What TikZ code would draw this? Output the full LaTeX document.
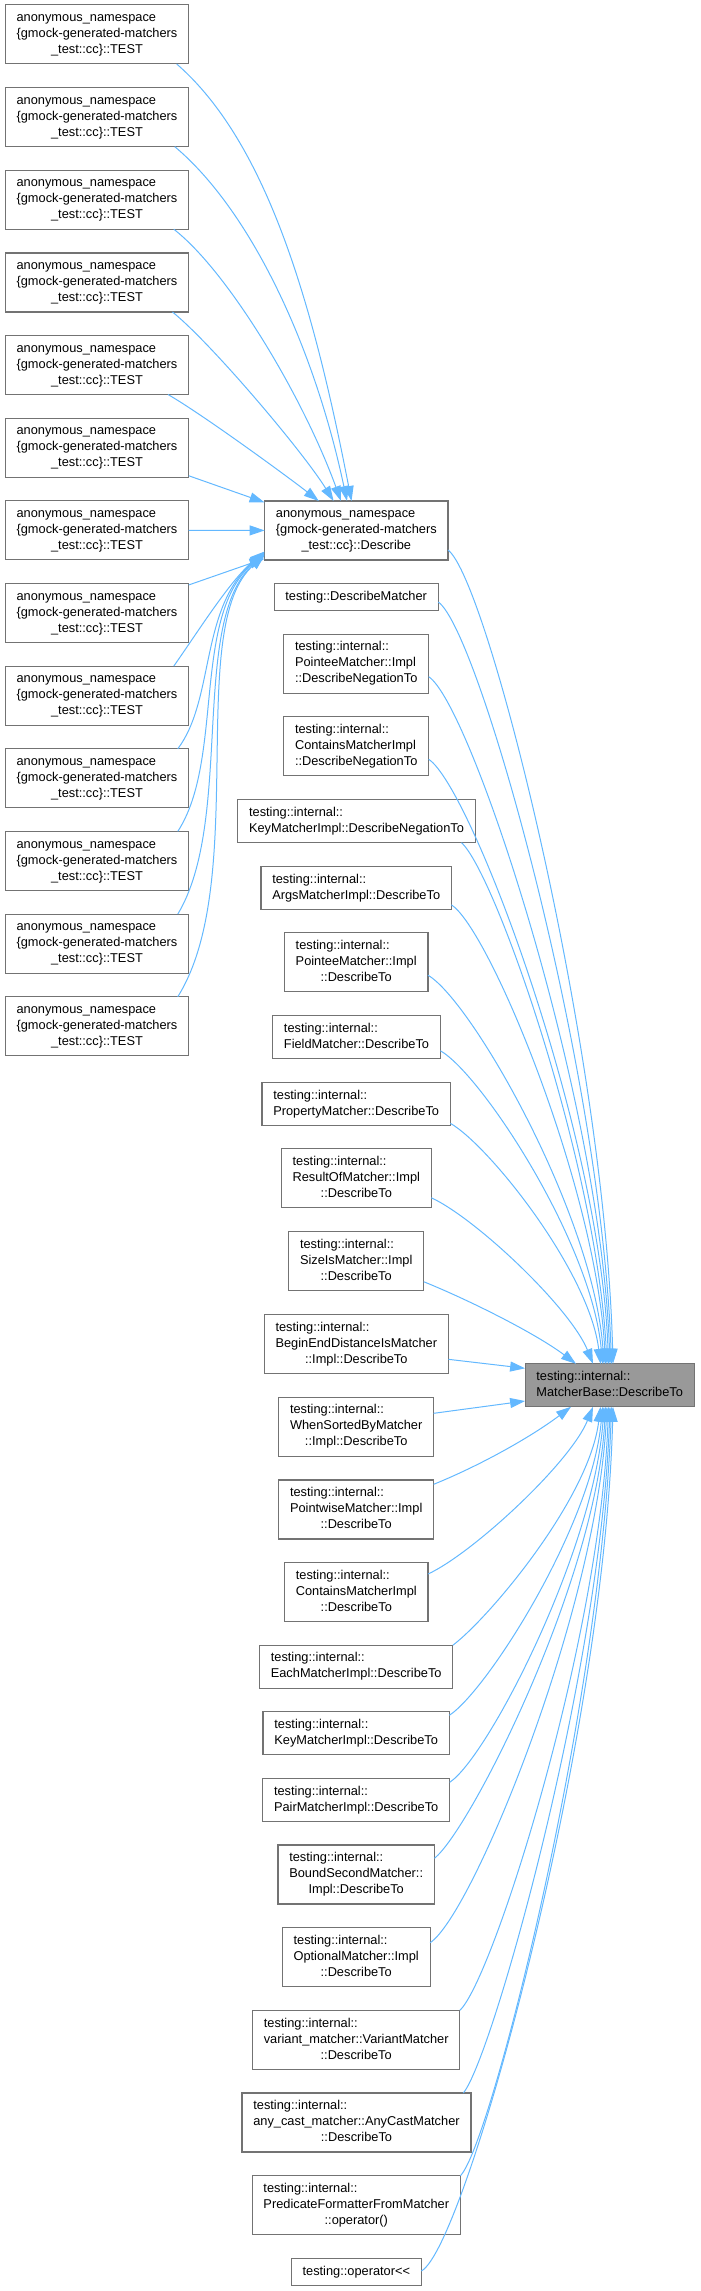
\documentclass[tikz,border=0pt]{standalone}
\usepackage{fontspec}
\setmainfont{Liberation Sans}
\usetikzlibrary{arrows.meta}

\definecolor{edgeblue}{HTML}{63B8FF}
\definecolor{boxline}{HTML}{737373}
\definecolor{focusfill}{HTML}{999999}

\newcommand{\lbl}[1]{\begin{tabular}{@{}l@{}}#1\end{tabular}}
\newcommand{\lastline}[1]{\multicolumn{1}{@{}c@{}}{#1}}
\newcommand{\testlbl}{\lbl{anonymous\_namespace\\\{gmock-generated-matchers\\\lastline{\_test::cc\}::TEST}}}

\begin{document}
\begin{tikzpicture}[
  x=1pt,y=1pt,
  font=\fontsize{12.8}{16}\selectfont,
  >={Triangle[length=15pt,width=10pt]},
  fn/.style={draw=boxline,line width=1.2pt,fill=white,inner xsep=11.3pt,inner ysep=5.5pt,outer sep=0pt},
  focus/.style={fn,fill=focusfill},
  call/.style={->,draw=edgeblue,line width=1pt}
]
\useasboundingbox (0,0) rectangle (701,-2291);

\node[fn] (t0) at (97,-34.4) {\testlbl};
\node[fn] (t1) at (97,-117.1) {\testlbl};
\node[fn] (t2) at (97,-199.7) {\testlbl};
\node[fn] (t3) at (97,-282.4) {\testlbl};
\node[fn] (t4) at (97,-365.0) {\testlbl};
\node[fn] (t5) at (97,-447.7) {\testlbl};
\node[fn] (t6) at (97,-530.3) {\testlbl};
\node[fn] (t7) at (97,-613.0) {\testlbl};
\node[fn] (t8) at (97,-695.6) {\testlbl};
\node[fn] (t9) at (97,-778.3) {\testlbl};
\node[fn] (t10) at (97,-860.9) {\testlbl};
\node[fn] (t11) at (97,-943.6) {\testlbl};
\node[fn] (t12) at (97,-1026.2) {\testlbl};

\node[fn] (desc) at (356.3,-530.5) {\lbl{anonymous\_namespace\\\{gmock-generated-matchers\\\lastline{\_test::cc\}::Describe}}};
\node[fn] (dm) at (356.2,-597) {\lbl{testing::DescribeMatcher}};
\node[fn] (pnn) at (356.2,-663.7) {\lbl{testing::internal::\\PointeeMatcher::Impl\\\lastline{::DescribeNegationTo}}};
\node[fn] (cnn) at (356.2,-746.3) {\lbl{testing::internal::\\ContainsMatcherImpl\\\lastline{::DescribeNegationTo}}};
\node[fn] (knn) at (356.5,-821.2) {\lbl{testing::internal::\\KeyMatcherImpl::DescribeNegationTo}};
\node[fn] (args) at (356.2,-887.8) {\lbl{testing::internal::\\ArgsMatcherImpl::DescribeTo}};
\node[fn] (pdt) at (356.2,-962.2) {\lbl{testing::internal::\\PointeeMatcher::Impl\\\lastline{::DescribeTo}}};
\node[fn] (field) at (356.5,-1037.2) {\lbl{testing::internal::\\FieldMatcher::DescribeTo}};
\node[fn] (prop) at (356.2,-1103.8) {\lbl{testing::internal::\\PropertyMatcher::DescribeTo}};
\node[fn] (resof) at (356.3,-1178.3) {\lbl{testing::internal::\\ResultOfMatcher::Impl\\\lastline{::DescribeTo}}};
\node[fn] (sizeis) at (356.2,-1261) {\lbl{testing::internal::\\SizeIsMatcher::Impl\\\lastline{::DescribeTo}}};
\node[fn] (bedist) at (356.3,-1344) {\lbl{testing::internal::\\BeginEndDistanceIsMatcher\\\lastline{::Impl::DescribeTo}}};
\node[fn] (wsorted) at (356.2,-1426.7) {\lbl{testing::internal::\\WhenSortedByMatcher\\\lastline{::Impl::DescribeTo}}};
\node[fn] (pwise) at (356.2,-1509.5) {\lbl{testing::internal::\\PointwiseMatcher::Impl\\\lastline{::DescribeTo}}};
\node[fn] (cdt) at (356.3,-1592) {\lbl{testing::internal::\\ContainsMatcherImpl\\\lastline{::DescribeTo}}};
\node[fn] (each) at (356.2,-1666.7) {\lbl{testing::internal::\\EachMatcherImpl::DescribeTo}};
\node[fn] (kdt) at (356.2,-1733.2) {\lbl{testing::internal::\\KeyMatcherImpl::DescribeTo}};
\node[fn] (pair) at (356.2,-1799.9) {\lbl{testing::internal::\\PairMatcherImpl::DescribeTo}};
\node[fn] (bsec) at (356.2,-1874.5) {\lbl{testing::internal::\\BoundSecondMatcher::\\\lastline{Impl::DescribeTo}}};
\node[fn] (opt) at (356.2,-1957.2) {\lbl{testing::internal::\\OptionalMatcher::Impl\\\lastline{::DescribeTo}}};
\node[fn] (var) at (356.2,-2039.8) {\lbl{testing::internal::\\variant\_matcher::VariantMatcher\\\lastline{::DescribeTo}}};
\node[fn] (anyc) at (356.5,-2122.5) {\lbl{testing::internal::\\any\_cast\_matcher::AnyCastMatcher\\\lastline{::DescribeTo}}};
\node[fn] (pred) at (356.3,-2205.2) {\lbl{testing::internal::\\PredicateFormatterFromMatcher\\\lastline{::operator()}}};
\node[fn] (opl) at (356.3,-2272) {\lbl{testing::operator<{}<}};

\node[focus] (tgt) at (609.7,-1385.3) {\lbl{testing::internal::\\MatcherBase::DescribeTo}};

% callers of Describe
\draw[call] ([xshift=79.6pt]t0.south) to[out=-41,in=101,out distance=120pt,in distance=200pt] ([xshift=-4.8pt]desc.north);
\draw[call] ([xshift=77.7pt]t1.south) to[out=-40,in=102,out distance=97pt,in distance=162pt] ([xshift=-9.3pt]desc.north);
\draw[call] ([xshift=76.8pt]t2.south) to[out=-38,in=110,out distance=70pt,in distance=110pt] ([xshift=-15.3pt]desc.north);
\draw[call] ([xshift=75.4pt]t3.south) to[out=-39,in=122,out distance=50pt,in distance=60pt] ([xshift=-22.7pt]desc.north);
\draw[call] ([xshift=71pt]t4.south) to[out=-30,in=142,out distance=40pt,in distance=40pt] ([xshift=-37.5pt]desc.north);
\draw[call] (t5.-17) -- (desc.163);
\draw[call] (t6) -- (desc);
\draw[call] (t7.17) -- (desc.197);
\draw[call] ([xshift=76.8pt]t8.north) to[out=55,in=-140,out distance=45pt,in distance=45pt] ([yshift=-21pt]desc.west);
\draw[call] ([xshift=80.8pt]t9.north) to[out=53,in=-140,out distance=62pt,in distance=85pt] ([yshift=-22pt]desc.west);
\draw[call] ([xshift=80.8pt]t10.north) to[out=57,in=-140,out distance=86pt,in distance=96pt] ([yshift=-23pt]desc.west);
\draw[call] ([xshift=80.8pt]t11.north) to[out=59,in=-139,out distance=110pt,in distance=100pt] ([yshift=-24pt]desc.west);
\draw[call] ([xshift=80.8pt]t12.north) to[out=58,in=-139,out distance=137pt,in distance=106pt] ([yshift=-25pt]desc.west);

% callers of MatcherBase::DescribeTo
\draw[call] (desc.-12) to[out=-37,in=91.5,out distance=50pt,in distance=314pt] ([xshift=3.3pt]tgt.north);
\draw[call] ([yshift=-5pt]dm.east) to[out=-35,in=92,out distance=50pt,in distance=293pt] ([xshift=1.8pt]tgt.north);
\draw[call] ([yshift=-13pt]pnn.east) to[out=-33,in=92,out distance=50pt,in distance=265pt] ([xshift=0.3pt]tgt.north);
\draw[call] ([yshift=-13pt]cnn.east) to[out=-33,in=92,out distance=50pt,in distance=233pt] ([xshift=-1.2pt]tgt.north);
\draw[call] ([xshift=105pt]knn.south) to[out=-42,in=93,out distance=45pt,in distance=201pt] ([xshift=-2.7pt]tgt.north);
\draw[call] ([yshift=-17pt]args.east) to[out=-33,in=93,out distance=45pt,in distance=177pt] ([xshift=-4.2pt]tgt.north);
\draw[call] ([yshift=-13pt]pdt.east) to[out=-30,in=94,out distance=50pt,in distance=150pt] ([xshift=-5.7pt]tgt.north);
\draw[call] ([yshift=-13.5pt]field.east) to[out=-30,in=95,out distance=48pt,in distance=121pt] ([xshift=-7.2pt]tgt.north);
\draw[call] ([yshift=-19.5pt]prop.east) to[out=-30,in=97,out distance=45pt,in distance=93pt] ([xshift=-9.2pt]tgt.north);
\draw[call] ([yshift=-19.4pt]resof.east) to[out=-25,in=112,out distance=50pt,in distance=60pt] ([xshift=-16.7pt]tgt.north);
\draw[call] ([yshift=-20.7pt]sizeis.east) to[out=-22,in=143,out distance=50pt,in distance=50pt] ([xshift=-33.7pt]tgt.north);
\draw[call] ([yshift=-15.3pt]bedist.east) -- ([yshift=17pt]tgt.west);
\draw[call] ([yshift=13.4pt]wsorted.east) -- ([yshift=-15.7pt]tgt.west);
\draw[call] ([yshift=25.2pt]pwise.east) to[out=22,in=-143,out distance=50pt,in distance=50pt] ([xshift=-38.7pt]tgt.south);
\draw[call] ([yshift=18pt]cdt.east) to[out=25,in=-112,out distance=50pt,in distance=60pt] ([xshift=-16.7pt]tgt.south);
\draw[call] (each.north east) to[out=37,in=-97,out distance=45pt,in distance=93pt] ([xshift=-9.2pt]tgt.south);
\draw[call] ([yshift=17.9pt]kdt.east) to[out=33,in=-95,out distance=45pt,in distance=119pt] ([xshift=-7.2pt]tgt.south);
\draw[call] ([yshift=17.6pt]pair.east) to[out=33,in=-94,out distance=45pt,in distance=145pt] ([xshift=-5.7pt]tgt.south);
\draw[call] ([yshift=16.2pt]bsec.east) to[out=38,in=-93,out distance=45pt,in distance=174pt] ([xshift=-4.2pt]tgt.south);
\draw[call] ([yshift=14.5pt]opt.east) to[out=33,in=-93,out distance=50pt,in distance=206pt] ([xshift=-2.7pt]tgt.south);
\draw[call] (var.north east) to[out=43,in=-92,out distance=45pt,in distance=233pt] ([xshift=-1.2pt]tgt.south);
\draw[call] ([xshift=106.8pt]anyc.north) to[out=50,in=-92,out distance=45pt,in distance=264pt] ([xshift=0.3pt]tgt.south);
\draw[call] (pred.north east) to[out=46,in=-92,out distance=45pt,in distance=296pt] ([xshift=1.8pt]tgt.south);
\draw[call] ([yshift=1pt]opl.east) to[out=28,in=-91.5,out distance=50pt,in distance=333pt] ([xshift=3.3pt]tgt.south);
\end{tikzpicture}
\end{document}
